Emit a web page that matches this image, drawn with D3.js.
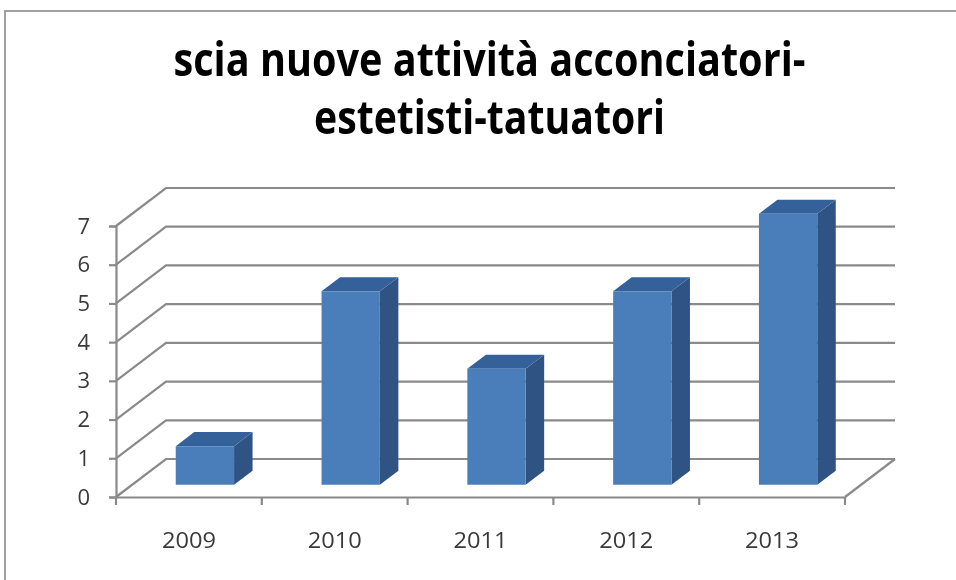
<!DOCTYPE html>
<html><head><meta charset="utf-8">
<script src="https://cdn.jsdelivr.net/npm/d3@7"></script>
<style>
html,body{margin:0;padding:0;background:#fff;overflow:hidden}
svg{display:block;filter:blur(0.7px)}
text{font-family:"Open Sans",sans-serif}
</style></head><body>
<svg id="c" width="956" height="580"></svg>
<script>
const categories=["2009","2010","2011","2012","2013"];
const seriesValues=[1,5,3,5,7];
const yTicks=[0,1,2,3,4,5,6,7];
const titleLines=["scia nuove attività acconciatori-","estetisti-tatuatori"];

const svg=d3.select("#c");
const grid="#8a8a8a",front="#4a7ebb",top_="#35619a",side="#2f5383";
// frame
svg.append("path").attr("d","M5,580V11H956").attr("fill","none").attr("stroke","#a0a0a0").attr("stroke-width",2);
// title
const titleW=[632,351];
svg.selectAll("text.t").data(titleLines).join("text").attr("class","t")
  .attr("x",489.5).attr("y",(d,i)=>[76,134][i]).attr("text-anchor","middle")
  .attr("font-size",47).attr("font-weight",700).attr("fill","#000")
  .attr("textLength",(d,i)=>titleW[i]).attr("lengthAdjust","spacingAndGlyphs").text(d=>d);

const x=d3.scaleBand().domain(categories).range([116,845]).paddingInner(0.6).paddingOuter(0.3);
const xStep=d3.scaleBand().domain(categories).range([116,845]);
const y=d3.scaleLinear().domain([0,7]).range([497,226]);
const depthX=d3.scaleLinear().domain([0,1]).range([0,50]);
const depthY=d3.scaleLinear().domain([0,1]).range([0,-38]);
const P=(px,py,z)=>[px+depthX(z),py+depthY(z)];

// walls
const g=svg.append("g").attr("fill","none").attr("stroke",grid).attr("stroke-width",2.2);
yTicks.forEach(v=>{
  const a=P(116,y(v),0),b=P(116,y(v),1),c=P(845,y(v),1);
  g.append("path").attr("d",d3.line()([a,b,c]));
});
g.append("path").attr("d",d3.line()([P(845,y(0),0),P(845,y(0),1)]));

// axes
const axL=svg.append("g").attr("transform","translate(116,0)")
  .call(d3.axisLeft(y).tickValues(yTicks).tickSize(7).tickPadding(19).tickFormat(d3.format("d")));
const axB=svg.append("g").attr("transform","translate(0,497)")
  .call(d3.axisBottom(xStep).tickSize(0).tickPadding(35));
axB.append("g").selectAll("line").data(categories.concat(["end"])).join("line")
  .attr("x1",(d,i)=>116+i*xStep.step()).attr("x2",(d,i)=>116+i*xStep.step())
  .attr("y1",0).attr("y2",8);
[axL,axB].forEach(a=>{
  a.selectAll("path.domain").attr("stroke",grid).attr("stroke-width",2.2);
  a.selectAll("line").attr("stroke",grid).attr("stroke-width",2.2);
  a.selectAll("text").attr("font-size",22).attr("font-family","'Open Sans',sans-serif").attr("fill","#3a3a3a");
});
axB.selectAll(".tick text").attr("textLength",54).attr("lengthAdjust","spacingAndGlyphs");

// bars
const z0=0.32,z1=0.69;
const bars=svg.append("g").selectAll("g").data(categories).join("g");
const poly=pts=>"M"+pts.join("L")+"Z";
bars.each(function(c,i){
  const s=d3.select(this),v=seriesValues[i];
  const l=x(c),r=l+x.bandwidth(),b=y(0),t=y(v);
  s.append("path").attr("fill",side).attr("d",poly([P(r,b,z0),P(r,b,z1),P(r,t,z1),P(r,t,z0)]));
  s.append("path").attr("fill",top_).attr("d",poly([P(l,t,z0),P(r,t,z0),P(r,t,z1),P(l,t,z1)]));
  s.append("path").attr("fill",front).attr("d",poly([P(l,b,z0),P(r,b,z0),P(r,t,z0),P(l,t,z0)]));
});
</script></body></html>
